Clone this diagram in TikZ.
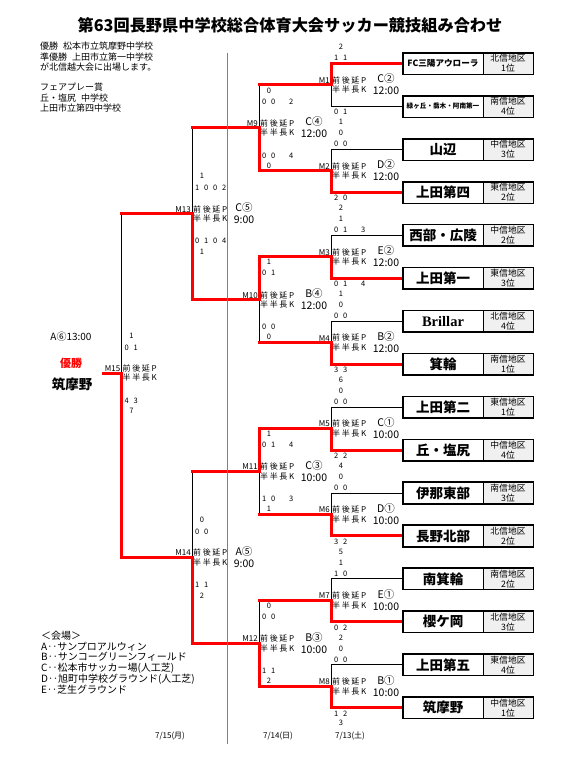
\documentclass[tikz,border=0pt]{standalone}
\usepackage{fontspec}
\setmainfont{Noto Sans CJK JP}
\newfontfamily\serifb{Liberation Serif}
\usetikzlibrary{calc}
\pgfdeclarelayer{back}
\pgfdeclarelayer{bg}
\pgfsetlayers{back,bg,main}
\newcommand\gp{\hspace{1.6pt}}
\newcommand\srow[4]{\makebox[9pt]{#1}\makebox[9pt]{#2}\makebox[9pt]{#3}\makebox[9pt]{#4}}
\newcommand\topsc[9]{\node[sc] (st#1) at (#2+10,#3) {#5}; \node[sc,anchor=west] (sr#1) at (#2+0.5,#4) {\srow{#6}{#7}{#8}{#9}};}
\newcommand\botsc[9]{\node[sc,anchor=west] (br#1) at (#2+0.5,#3) {\srow{#6}{#7}{#8}{#9}}; \node[sc] (bt#1) at (#2+10,#4) {#5};}
\tikzset{
 lk/.style={line width=0.9pt},
 win/.style={line width=3pt, red, line cap=rect},
 namecell/.style={draw, line width=0.7pt, fill=white, minimum width=80pt, minimum height=21pt, inner sep=0pt, font=\bfseries\fontsize{13.5}{14}\selectfont},
 nsm/.style={font=\bfseries\fontsize{8.6}{9}\selectfont},
 ntiny/.style={font=\bfseries\fontsize{6.6}{7}\selectfont},
 nser/.style={font=\serifb\bfseries\fontsize{14.5}{15}\selectfont},
 nstd/.style={},
 regcell/.style={draw, line width=0.7pt, fill=gray!12, minimum width=50pt, minimum height=21pt, inner sep=0pt, align=center, font=\fontsize{8.8}{10}\selectfont},
 boxline/.style={line width=1.4pt},
 mlab/.style={font=\fontsize{8}{9}\selectfont, inner sep=0pt, anchor=east},
 pklab/.style={font=\fontsize{8}{9.5}\selectfont, inner sep=0pt, anchor=west, align=left},
 venue/.style={font=\fontsize{10.5}{12}\selectfont, inner sep=0pt, align=center},
 sc/.style={font=\fontsize{7.5}{8}\selectfont, inner sep=0pt},
 datel/.style={font=\fontsize{8}{9}\selectfont, inner sep=0pt},
}
\begin{document}
\begin{tikzpicture}[x=1pt,y=-1pt]
\useasboundingbox (0,0) rectangle (580,760);
\begin{pgfonlayer}{back}
\fill[white] (0,0) rectangle (580,760);
\end{pgfonlayer}

% title and notes
\node[font=\bfseries\fontsize{16.2}{17}\selectfont, inner sep=0] (title) at (290,25) {第63回長野県中学校総合体育大会サッカー競技組み合わせ};
\node[anchor=north west, align=left, font=\fontsize{9}{10.4}\selectfont, inner sep=0] (info) at (40,42) {優勝\hspace{5pt}松本市立筑摩野中学校\\準優勝\hspace{5pt}上田市立第一中学校\\が北信越大会に出場します。\\[9.8pt]フェアプレー賞\\丘・塩尻\hspace{5pt}中学校\\上田市立第四中学校};
\node[anchor=north west, align=left, font=\fontsize{10}{10.7}\selectfont, inner sep=0] (venues) at (41,631) {＜会場＞\\A‥サンプロアルウィン\\B‥サンコーグリーンフィールド\\C‥松本市サッカー場(人工芝)\\D‥旭町中学校グラウンド(人工芝)\\E‥芝生グラウンド};

% gray day divider
\coordinate (ga) at (227.5,53);
\coordinate (gb) at (227.5,744);
\draw[gray, line width=1.6pt] (ga) -- (gb);

% team boxes
\foreach \i/\nm/\fs/\rg/\rk in {
1/FC三陽アウローラ/nsm/北信/1,
2/緑ヶ丘・喬木・阿南第一/ntiny/南信/4,
3/山辺/nstd/中信/3,
4/上田第四/nstd/東信/2,
5/西部・広陵/nstd/中信/2,
6/上田第一/nstd/東信/3,
7/Brillar/nser/北信/4,
8/箕輪/nstd/南信/1,
9/上田第二/nstd/東信/1,
10/丘・塩尻/nstd/中信/4,
11/伊那東部/nstd/南信/3,
12/長野北部/nstd/北信/2,
13/南箕輪/nstd/南信/2,
14/櫻ケ岡/nstd/北信/3,
15/上田第五/nstd/東信/4,
16/筑摩野/nstd/中信/1}
{
 \pgfmathsetmacro\yy{63.5+42.95*(\i-1)}
 \node[namecell,\fs] (t\i) at (443,\yy) {\nm};
 \node[regcell] (r\i) at (508,\yy) {\rg 地区\\\rk 位};
 \draw[boxline] (t\i.north west) rectangle (r\i.south east);
}

% junctions
\foreach \m in {1,...,8} {
 \pgfmathsetmacro\yj{63.5+42.95*(2*\m-1.5)}
 \coordinate (j\m) at (331,\yj);
}
\coordinate (j9) at ($(j1)!0.5!(j2)+(-72,0)$);
\coordinate (j10) at ($(j3)!0.5!(j4)+(-72,0)$);
\coordinate (j11) at ($(j5)!0.5!(j6)+(-72,0)$);
\coordinate (j12) at ($(j7)!0.5!(j8)+(-72,0)$);
\coordinate (j13) at ($(j9)!0.5!(j10)+(-67,0)$);
\coordinate (j14) at ($(j11)!0.5!(j12)+(-67,0)$);
\coordinate (j15) at (121.5,373);
\coordinate (champ) at (103,373);

\begin{pgfonlayer}{bg}
% black brackets
\foreach \m in {1,...,8} {
 \pgfmathtruncatemacro\a{2*\m-1}
 \pgfmathtruncatemacro\b{2*\m}
 \draw[lk] (t\a.west) -| (j\m);
 \draw[lk] (t\b.west) -| (j\m);
}
\foreach \s/\d in {1/9,2/9,3/10,4/10,5/11,6/11,7/12,8/12,9/13,10/13,11/14,12/14,13/15,14/15}
 \draw[lk] (j\s) -| (j\d);
% winner paths
\draw[win] (t1.west) -| (j1) -- (j1 -| j9);
\draw[win] (t4.west) -| (j2) -- (j2 -| j9);
\draw[win] (t6.west) -| (j3) -- (j3 -| j10);
\draw[win] (t8.west) -| (j4) -- (j4 -| j10);
\draw[win] (t10.west) -| (j5) -- (j5 -| j11);
\draw[win] (t12.west) -| (j6) -- (j6 -| j11);
\draw[win] (t14.west) -| (j7) -- (j7 -| j12);
\draw[win] (t16.west) -| (j8) -- (j8 -| j12);
\draw[win] (j2 -| j9) -- (j9) -- (j9 -| j13);
\draw[win] (j3 -| j10) -- (j10) -- (j10 -| j13);
\draw[win] (j5 -| j11) -- (j11) -- (j11 -| j14);
\draw[win] (j8 -| j12) -- (j12) -- (j12 -| j14);
\draw[win] (j10 -| j13) -- (j13) -- (j13 -| j15);
\draw[win] (j12 -| j14) -- (j14) -- (j14 -| j15);
\draw[win] (j14 -| j15) -- (j15) -- (champ);
\end{pgfonlayer}

% match labels
\foreach \m in {1,...,15} {
 \node[mlab] (ml\m) at ($(j\m)+(-1,-4.5)$) {M\m};
 \node[pklab] (pk\m) at ($(j\m)+(1,0)$) {前\gp 後\gp 延\gp P\\半\gp 半\gp 長\gp K};
}
\foreach \m/\vn/\tm/\dx in {1/C②/12:00/55, 2/D②/12:00/55, 3/E②/12:00/55, 4/B②/12:00/55, 5/C①/10:00/55, 6/D①/10:00/55, 7/E①/10:00/55, 8/B①/10:00/55, 9/C④/12:00/55, 10/B④/12:00/55, 11/C③/10:00/55, 12/B③/10:00/55, 13/C⑤/9:00/52, 14/A⑤/9:00/52}
 \node[venue] (vn\m) at ($(j\m)+(\dx,-0.5)$) {\vn\\\tm};

% scores
\topsc{1}{331}{47.2}{58.2}{2}{1}{1}{}{}
\botsc{1}{331}{112}{122}{1}{0}{1}{}{}
\topsc{2}{331}{133.1}{144.1}{0}{0}{0}{}{}
\botsc{2}{331}{197.9}{207.9}{2}{2}{0}{}{}
\topsc{3}{331}{219}{230}{1}{0}{1}{}{3}
\botsc{3}{331}{283.8}{293.8}{1}{0}{1}{}{4}
\topsc{4}{331}{304.9}{315.9}{0}{0}{0}{}{}
\botsc{4}{331}{369.7}{379.7}{6}{3}{3}{}{}
\topsc{5}{331}{390.8}{401.8}{0}{0}{0}{}{}
\botsc{5}{331}{455.6}{465.6}{4}{2}{2}{}{}
\topsc{6}{331}{476.7}{487.7}{0}{0}{0}{}{}
\botsc{6}{331}{541.5}{551.5}{5}{3}{2}{}{}
\topsc{7}{331}{562.6}{573.6}{1}{1}{0}{}{}
\botsc{7}{331}{627.4}{637.4}{2}{0}{2}{}{}
\topsc{8}{331}{648.5}{659.5}{0}{0}{0}{}{}
\botsc{8}{331}{713.3}{723.3}{3}{1}{2}{}{}
\topsc{9}{259}{90.5}{101.5}{0}{0}{0}{}{2}
\botsc{9}{259}{155.4}{165.4}{0}{0}{0}{}{4}
\topsc{10}{259}{262.3}{273.3}{1}{0}{1}{}{}
\botsc{10}{259}{327.2}{337.2}{0}{0}{0}{}{}
\topsc{11}{259}{434.1}{445.1}{1}{0}{1}{}{4}
\botsc{11}{259}{499}{509}{1}{1}{0}{}{3}
\topsc{12}{259}{605.9}{616.9}{0}{0}{0}{}{}
\botsc{12}{259}{670.8}{680.8}{2}{1}{1}{}{}
\topsc{13}{192}{175.8}{187.8}{1}{1}{0}{0}{2}
\botsc{13}{192}{240.8}{251.8}{1}{0}{1}{0}{4}
\topsc{14}{192}{519.4}{531.4}{0}{0}{0}{}{}
\botsc{14}{192}{584.4}{595.4}{2}{1}{1}{}{}
\topsc{15}{121.5}{335.5}{347.5}{1}{0}{1}{}{}
\botsc{15}{121.5}{400.5}{411}{7}{4}{3}{}{}

% final
\node[font=\fontsize{10}{11}\selectfont, inner sep=0] (fa) at (71,337) {A⑥13:00};
\node[text=red, font=\bfseries\fontsize{11}{12}\selectfont, inner sep=0] (yu) at (71,363) {優勝};
\node[font=\bfseries\fontsize{13.5}{14}\selectfont, inner sep=0] (champname) at (72,384) {筑摩野};

% dates
\node[datel] (d15) at (170,736) {7/15(月)};
\node[datel] (d14) at (278,736) {7/14(日)};
\node[datel] (d13) at (350,736) {7/13(土)};
\end{tikzpicture}
\end{document}
